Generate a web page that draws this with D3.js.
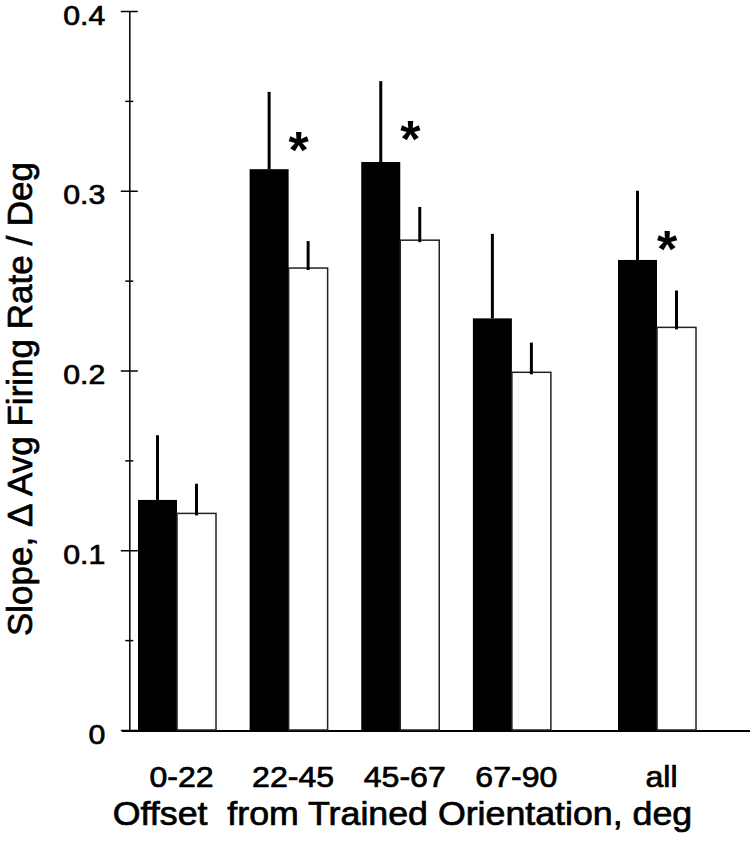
<!DOCTYPE html>
<html>
<head>
<meta charset="utf-8">
<style>
    body { margin: 0; background: #ffffff; }
    svg { display: block; font-family: "Liberation Sans", Arial, Helvetica, sans-serif; }
    .grueso { stroke: #000; stroke-width: 0.7px; }
</style>
<script src="https://cdn.jsdelivr.net/npm/d3@7"></script>
</head>
<body>
<svg id="grafico"></svg>
<script>
    // valores
    let categorias = ["0-22", "22-45", "45-67", "67-90", "all"];
    let mediaEntrenada = [0.128, 0.312, 0.316, 0.229, 0.2615];
    let errorEntrenada = [0.036, 0.043, 0.045, 0.047, 0.0385];
    let mediaNoEntrenada = [0.1205, 0.257, 0.2725, 0.199, 0.224];
    let errorNoEntrenada = [0.0165, 0.015, 0.0185, 0.0165, 0.0205];
    let significativo = [false, true, true, false, true];
    let ticksY = [0, 0.1, 0.2, 0.3, 0.4];
    let ticksMenoresY = [0.05, 0.15, 0.25, 0.35];

    let ancho = 750, alto = 853;
    let ejeX0 = 129.3;
    let anchoBarra = 39;

    let svg = d3.select("#grafico").attr("width", ancho).attr("height", alto);

    let escalaY = d3.scaleLinear().domain([0, 0.4]).range([730, 11]);
    // el grupo "all" va separado del resto
    let posicion = i => i + (i === categorias.length - 1 ? 0.3 : 0);
    let escalaX = d3.scaleLinear().domain([0, 4.3]).range([177, 657]);

    let datos = categorias.map((c, i) => ({
        cat: c, x: escalaX(posicion(i)),
        m1: mediaEntrenada[i], e1: errorEntrenada[i],
        m2: mediaNoEntrenada[i], e2: errorNoEntrenada[i],
        sig: significativo[i]
    }));

    // linea base
    svg.append("line")
        .attr("x1", 122).attr("x2", ancho)
        .attr("y1", escalaY(0) + 1).attr("y2", escalaY(0) + 1)
        .attr("stroke", "#000").attr("stroke-width", 2);

    let grupos = svg.selectAll(".grupo").data(datos).enter().append("g");

    // barras negras
    grupos.append("rect")
        .attr("x", d => d.x - anchoBarra)
        .attr("y", d => escalaY(d.m1))
        .attr("width", anchoBarra)
        .attr("height", d => escalaY(0) - escalaY(d.m1))
        .attr("fill", "#000");

    // barras blancas
    grupos.append("rect")
        .attr("x", d => d.x)
        .attr("y", d => escalaY(d.m2))
        .attr("width", anchoBarra)
        .attr("height", d => escalaY(0) - escalaY(d.m2))
        .attr("fill", "#fff")
        .attr("stroke", "#222")
        .attr("stroke-width", 1.5);

    // barras de error
    grupos.append("line")
        .attr("x1", d => d.x - anchoBarra / 2).attr("x2", d => d.x - anchoBarra / 2)
        .attr("y1", d => escalaY(d.m1)).attr("y2", d => escalaY(d.m1 + d.e1))
        .attr("stroke", "#000").attr("stroke-width", 3);

    grupos.append("line")
        .attr("x1", d => d.x + anchoBarra / 2).attr("x2", d => d.x + anchoBarra / 2)
        .attr("y1", d => escalaY(d.m2) + 2).attr("y2", d => escalaY(d.m2 + d.e2))
        .attr("stroke", "#000").attr("stroke-width", 3);

    // asteriscos
    grupos.filter(d => d.sig).append("text")
        .attr("x", d => d.x + 10)
        .attr("y", d => escalaY(d.m1 + d.e1) + 47 + 29)
        .attr("text-anchor", "middle")
        .attr("font-size", 52)
        .attr("font-weight", "bold")
        .text("*");

    // eje Y
    let ejeY = svg.append("g")
        .attr("transform", `translate(${ejeX0},0)`)
        .call(d3.axisLeft(escalaY).tickValues(ticksY).tickSizeOuter(0)
            .tickFormat(d => d === 0 ? "0" : d3.format(".1f")(d)));
    ejeY.select(".domain").attr("stroke", "#000").attr("stroke-width", 1.5);
    ejeY.selectAll(".tick line").attr("x1", 8.5).attr("x2", -8.5).attr("stroke-width", 1.5);
    ejeY.selectAll(".tick text")
        .attr("x", null).attr("dy", null)
        .attr("transform", "translate(-24,13) scale(1.08,1)")
        .attr("font-size", 28)
        .attr("font-family", null)
        .attr("fill", "#000")
        .attr("class", "grueso");

    let ejeMenor = svg.append("g")
        .attr("transform", `translate(${ejeX0},0)`)
        .call(d3.axisLeft(escalaY).tickValues(ticksMenoresY).tickSizeOuter(0).tickFormat(""));
    ejeMenor.select(".domain").remove();
    ejeMenor.selectAll(".tick line").attr("x1", 4).attr("x2", -4).attr("stroke-width", 1.5);

    // eje X (solo etiquetas)
    let ejeXg = svg.append("g")
        .attr("transform", `translate(0,${escalaY(0)})`)
        .call(d3.axisBottom(escalaX).tickValues(categorias.map((c, i) => posicion(i)))
            .tickSize(0).tickFormat((d, i) => categorias[i]));
    ejeXg.select(".domain").remove();
    ejeXg.selectAll(".tick text")
        .attr("y", null).attr("dy", null)
        .attr("transform", "translate(4,56.7) scale(1.07,1)")
        .attr("font-size", 30)
        .attr("font-family", null)
        .attr("fill", "#000")
        .attr("class", "grueso");

    // titulos
    svg.append("text")
        .attr("class", "grueso")
        .attr("transform", "translate(402.5,825) scale(1.1,1)")
        .attr("text-anchor", "middle")
        .attr("font-size", 32.5)
        .style("white-space", "pre")
        .text("Offset  from Trained Orientation, deg");

    svg.append("text")
        .attr("class", "grueso")
        .attr("transform", "translate(31.7,399) rotate(-90)")
        .attr("text-anchor", "middle")
        .attr("font-size", 35)
        .text("Slope, \u0394 Avg Firing Rate / Deg");
</script>
</body>
</html>
